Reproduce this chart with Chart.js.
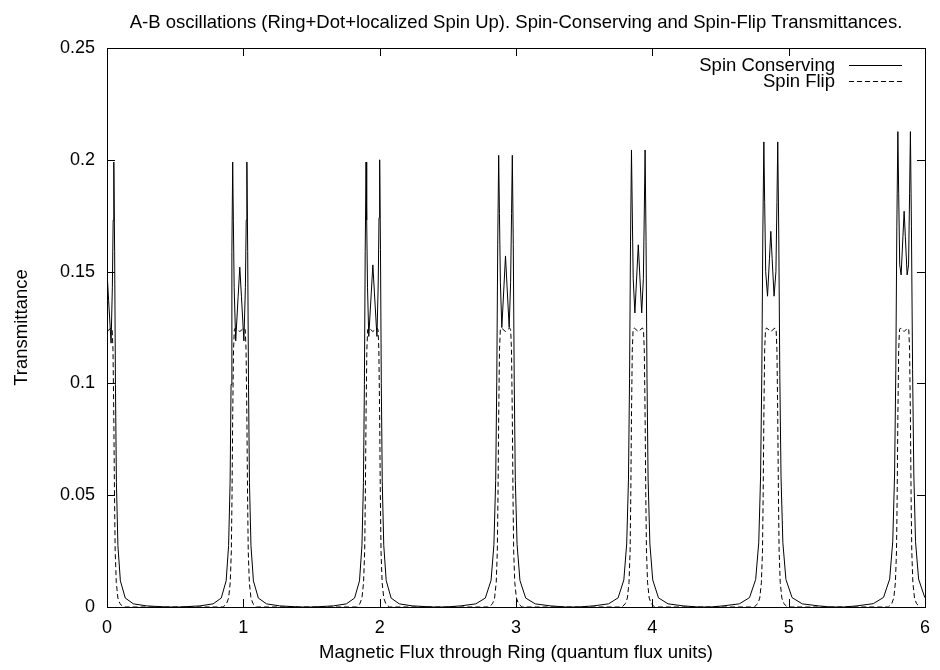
<!DOCTYPE html>
<html>
<head>
<meta charset="utf-8">
<title>A-B oscillations</title>
<script src="https://cdn.jsdelivr.net/npm/chart.js@4.4.0/dist/chart.umd.min.js"></script>
<style>
  html, body { margin: 0; padding: 0; background: #fff; }
  canvas { display: block; }
</style>
</head>
<body>
<canvas id="myChart" width="940" height="670"></canvas>
<script>
// values, one line per resonance cluster
const fluxConserving = [
  0, 0.012, 0.03, 0.0392, 0.0452, 0.05, 0.056, 0.062, 0.069, 0.080, 0.098, 0.134, 0.194, 0.29, 0.44,
  0.534, 0.682, 0.778, 0.838, 0.874, 0.892, 0.903, 0.910, 0.916, 0.922, 0.9268, 0.9328, 0.944, 0.962, 0.974, 0.986, 1.004, 1.0152, 1.0212, 1.026, 1.032, 1.038, 1.045, 1.056, 1.074, 1.110, 1.170, 1.266, 1.414,
  1.51, 1.66, 1.756, 1.816, 1.852, 1.870, 1.881, 1.888, 1.894, 1.900, 1.9048, 1.9108, 1.920, 1.938, 1.950, 1.962, 1.980, 1.9892, 1.9952, 2.000, 2.006, 2.012, 2.019, 2.030, 2.048, 2.084, 2.144, 2.24, 2.39,
  2.483, 2.593, 2.705, 2.775, 2.817, 2.838, 2.851, 2.859, 2.866, 2.873, 2.8786, 2.8856, 2.896, 2.9122, 2.923, 2.9338, 2.950, 2.9604, 2.9674, 2.973, 2.980, 2.987, 2.995, 3.008, 3.029, 3.071, 3.141, 3.253, 3.363,
  3.457, 3.567, 3.679, 3.749, 3.791, 3.812, 3.825, 3.833, 3.840, 3.847, 3.8526, 3.8596, 3.872, 3.887, 3.897, 3.907, 3.922, 3.9344, 3.9414, 3.947, 3.954, 3.961, 3.969, 3.982, 4.003, 4.045, 4.115, 4.227, 4.337,
  4.429, 4.518, 4.638, 4.713, 4.758, 4.7805, 4.794, 4.803, 4.8105, 4.818, 4.824, 4.8315, 4.845, 4.8594, 4.869, 4.8786, 4.893, 4.9065, 4.914, 4.920, 4.9275, 4.935, 4.944, 4.9575, 4.980, 5.025, 5.100, 5.220, 5.309,
  5.407, 5.501, 5.621, 5.696, 5.741, 5.7635, 5.777, 5.786, 5.7935, 5.801, 5.807, 5.8145, 5.825, 5.8382, 5.847, 5.8558, 5.869, 5.8795, 5.887, 5.893, 5.9005, 5.909, 5.918, 5.9305, 5.953, 5.998, 6.073
];
const transConserving = [
  0.150, 0.137, 0.118, 0.143, 0.173, 0.199, 0.159, 0.0995, 0.0557, 0.0275, 0.0117, 0.0040, 0.0014, 0.0005, 0,
  0, 0.0005, 0.0014, 0.0040, 0.0117, 0.0275, 0.0557, 0.0995, 0.159, 0.199, 0.173, 0.143, 0.119, 0.139, 0.152, 0.139, 0.119, 0.143, 0.173, 0.199, 0.159, 0.0995, 0.0557, 0.0275, 0.0117, 0.0040, 0.0014, 0.0005, 0,
  0, 0.0005, 0.0014, 0.0040, 0.0117, 0.0275, 0.0557, 0.0995, 0.159, 0.199, 0.173, 0.143, 0.121, 0.140, 0.153, 0.140, 0.121, 0.144, 0.174, 0.200, 0.160, 0.100, 0.056, 0.0276, 0.0118, 0.0040, 0.0014, 0.0005, 0,
  0, 0.0005, 0.0014, 0.0040, 0.0119, 0.0279, 0.0566, 0.101, 0.162, 0.202, 0.176, 0.145, 0.125, 0.144, 0.157, 0.144, 0.125, 0.145, 0.176, 0.202, 0.162, 0.101, 0.0566, 0.0279, 0.0119, 0.0040, 0.0014, 0.0005, 0,
  0, 0.0005, 0.0014, 0.0041, 0.0121, 0.0282, 0.0572, 0.1022, 0.1635, 0.2044, 0.178, 0.147, 0.1315, 0.1498, 0.162, 0.1498, 0.1315, 0.147, 0.178, 0.2044, 0.1635, 0.1022, 0.0572, 0.0282, 0.0121, 0.0041, 0.0014, 0.0005, 0,
  0, 0.0005, 0.0014, 0.0042, 0.0123, 0.0287, 0.0582, 0.104, 0.1664, 0.208, 0.181, 0.150, 0.139, 0.156, 0.168, 0.156, 0.139, 0.150, 0.181, 0.208, 0.1664, 0.104, 0.0582, 0.0287, 0.0123, 0.0042, 0.0014, 0.0005, 0,
  0, 0.0005, 0.0015, 0.0043, 0.0125, 0.0293, 0.0595, 0.1063, 0.170, 0.2126, 0.185, 0.153, 0.1485, 0.1656, 0.177, 0.1656, 0.1485, 0.153, 0.185, 0.2126, 0.170, 0.1063, 0.0595, 0.0293, 0.0125, 0.0043, 0.0015
];

const fluxFlip = [
  0, 0.03, 0.038, 0.044, 0.05, 0.055, 0.06, 0.068, 0.08, 0.095, 0.12,
  0.852, 0.877, 0.892, 0.904, 0.912, 0.917, 0.922, 0.928, 0.934, 0.942, 0.974, 1.006, 1.014, 1.020, 1.026, 1.031, 1.036, 1.044, 1.056, 1.071, 1.096,
  1.830, 1.855, 1.870, 1.882, 1.890, 1.895, 1.900, 1.906, 1.912, 1.920, 1.950, 1.980, 1.988, 1.994, 2.000, 2.005, 2.010, 2.018, 2.030, 2.045, 2.070,
  2.803, 2.828, 2.843, 2.855, 2.863, 2.868, 2.873, 2.879, 2.885, 2.893, 2.923, 2.953, 2.961, 2.967, 2.973, 2.978, 2.983, 2.991, 3.003, 3.018, 3.043,
  3.777, 3.802, 3.817, 3.829, 3.837, 3.842, 3.847, 3.853, 3.859, 3.867, 3.897, 3.927, 3.935, 3.941, 3.947, 3.952, 3.957, 3.965, 3.977, 3.992, 4.017,
  4.748, 4.773, 4.788, 4.800, 4.808, 4.813, 4.818, 4.824, 4.830, 4.838, 4.869, 4.900, 4.908, 4.914, 4.920, 4.925, 4.930, 4.938, 4.950, 4.965, 4.990,
  5.731, 5.756, 5.771, 5.783, 5.791, 5.796, 5.801, 5.807, 5.813, 5.821, 5.847, 5.873, 5.881, 5.887, 5.893, 5.898, 5.903, 5.911, 5.923, 5.938, 5.963
];
const transFlip = [
  0.1232, 0.1248, 0.124, 0.115, 0.085, 0.05, 0.025, 0.011, 0.004, 0.0015, 0,
  0, 0.0015, 0.004, 0.011, 0.025, 0.05, 0.085, 0.115, 0.124, 0.1248, 0.1232, 0.1248, 0.124, 0.115, 0.085, 0.05, 0.025, 0.011, 0.004, 0.0015, 0,
  0, 0.0015, 0.004, 0.011, 0.025, 0.05, 0.085, 0.115, 0.124, 0.1248, 0.1232, 0.1248, 0.124, 0.115, 0.085, 0.05, 0.025, 0.011, 0.004, 0.0015, 0,
  0, 0.0015, 0.004, 0.011, 0.025, 0.05, 0.085, 0.115, 0.124, 0.1248, 0.1232, 0.1248, 0.124, 0.115, 0.085, 0.05, 0.025, 0.011, 0.004, 0.0015, 0,
  0, 0.0015, 0.004, 0.011, 0.025, 0.05, 0.085, 0.115, 0.124, 0.1248, 0.1232, 0.1248, 0.124, 0.115, 0.085, 0.05, 0.025, 0.011, 0.004, 0.0015, 0,
  0, 0.0015, 0.004, 0.011, 0.025, 0.05, 0.085, 0.115, 0.124, 0.1248, 0.1232, 0.1248, 0.124, 0.115, 0.085, 0.05, 0.025, 0.011, 0.004, 0.0015, 0,
  0, 0.0015, 0.004, 0.011, 0.025, 0.05, 0.085, 0.115, 0.124, 0.1248, 0.1232, 0.1248, 0.124, 0.115, 0.085, 0.05, 0.025, 0.011, 0.004, 0.0015, 0
];

const seriesLabels = ['Spin Conserving', 'Spin Flip'];
const xTickLabels = ['0', '1', '2', '3', '4', '5', '6'];
const yTickLabels = ['0', '0.05', '0.1', '0.15', '0.2', '0.25'];

const FONT = '"Liberation Sans", Arial, Helvetica, sans-serif';
Chart.defaults.font.family = FONT;
Chart.defaults.font.size = 18;
Chart.defaults.color = '#000';

function points(xs, ys) {
  return xs.map((x, i) => ({ x: x, y: ys[i] }));
}

// gnuplot look: closed frame, ticks pointing inwards on all four sides, key top right
const gnuplotFrame = {
  id: 'gnuplotFrame',
  afterDatasetsDraw(chart) {
    const ctx = chart.ctx;
    const a = chart.chartArea;
    const xs = chart.scales.x, ys = chart.scales.y;
    ctx.save();
    ctx.strokeStyle = '#000';
    ctx.lineWidth = 1;
    ctx.setLineDash([]);
    ctx.beginPath();
    xs.ticks.forEach(t => {
      const px = Math.round(xs.getPixelForValue(t.value)) + 0.5;
      ctx.moveTo(px, a.bottom); ctx.lineTo(px, a.bottom - 8);
      ctx.moveTo(px, a.top); ctx.lineTo(px, a.top + 8);
    });
    ys.ticks.forEach(t => {
      const py = Math.round(ys.getPixelForValue(t.value)) + 0.5;
      ctx.moveTo(a.left, py); ctx.lineTo(a.left + 8, py);
      ctx.moveTo(a.right, py); ctx.lineTo(a.right - 8, py);
    });
    ctx.stroke();
    ctx.strokeRect(Math.round(a.left) + 0.5, Math.round(a.top) + 0.5,
                   Math.round(a.right - a.left), Math.round(a.bottom - a.top));

    ctx.font = '18.5px ' + FONT;
    ctx.fillStyle = '#000';
    ctx.textAlign = 'right';
    ctx.textBaseline = 'middle';
    chart.data.datasets.forEach((ds, i) => {
      const yy = Math.round(a.top + 17 + i * 16) + 0.5;
      ctx.fillText(ds.label, a.right - 90, yy);
      ctx.setLineDash(ds.borderDash || []);
      ctx.beginPath();
      ctx.moveTo(a.right - 76, yy);
      ctx.lineTo(a.right - 23, yy);
      ctx.stroke();
    });
    ctx.restore();
  }
};

const ctx = document.getElementById('myChart').getContext('2d');
const chart = new Chart(ctx, {
  type: 'scatter',
  data: {
    datasets: [
      {
        label: seriesLabels[0],
        data: points(fluxConserving, transConserving),
        showLine: true,
        borderColor: '#000',
        borderWidth: 1,
        pointRadius: 0,
        tension: 0,
        fill: false
      },
      {
        label: seriesLabels[1],
        data: points(fluxFlip, transFlip),
        showLine: true,
        borderColor: '#000',
        borderWidth: 1,
        borderDash: [5, 3],
        pointRadius: 0,
        tension: 0,
        fill: false
      }
    ]
  },
  options: {
    responsive: false,
    animation: false,
    layout: { padding: { right: 10 } },
    plugins: {
      legend: { display: false },
      tooltip: { enabled: false },
      title: {
        display: true,
        fullSize: false,
        text: 'A-B oscillations (Ring+Dot+localized Spin Up). Spin-Conserving and Spin-Flip Transmittances.',
        font: { size: 18.5, weight: 'normal' },
        color: '#000',
        padding: { top: 12, bottom: 13.8 }
      }
    },
    scales: {
      x: {
        type: 'linear',
        min: 0,
        max: 6,
        grid: { display: false, drawTicks: false },
        border: { display: false },
        ticks: {
          stepSize: 1,
          padding: 10,
          maxRotation: 0,
          callback: (v, i) => xTickLabels[i]
        },
        title: {
          display: true,
          text: 'Magnetic Flux through Ring (quantum flux units)',
          font: { size: 18.5 },
          padding: { top: 0, bottom: 6 }
        },
        afterFit: s => { s.height = 63; }
      },
      y: {
        min: 0,
        max: 0.25,
        grid: { display: false, drawTicks: false },
        border: { display: false },
        ticks: {
          stepSize: 0.05,
          padding: 12,
          callback: (v, i) => yTickLabels[i]
        },
        title: {
          display: true,
          text: 'Transmittance',
          font: { size: 18.5 },
          padding: { top: 11, bottom: 0 }
        },
        afterFit: s => { s.width = 107; }
      }
    }
  },
  plugins: [gnuplotFrame]
});
</script>
</body>
</html>
